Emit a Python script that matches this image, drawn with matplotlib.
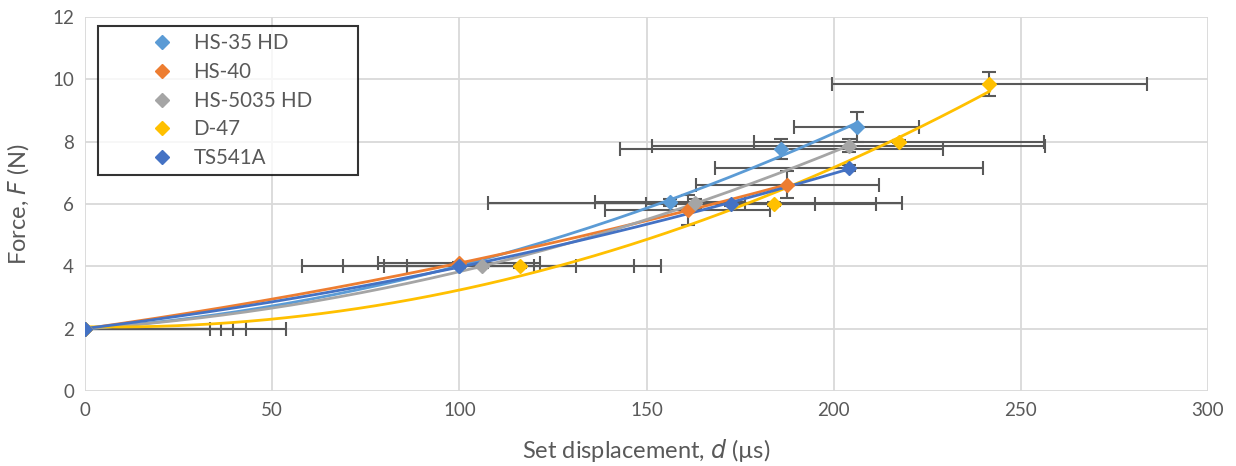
import numpy as np
import matplotlib
matplotlib.use("Agg")
import matplotlib.pyplot as plt
from matplotlib.legend_handler import HandlerLine2D

plt.rcParams['font.family'] = ['Lato', 'DejaVu Sans']

series = ["HS-35 HD", "HS-40", "HS-5035 HD", "D-47", "TS541A"]
colors = ["#5B9BD5", "#ED7D31", "#A5A5A5", "#FFC000", "#4472C4"]

# displacement (x), force (y), x errors, y errors
hs35_x = [0, 100, 156.3, 186, 206.2]
hs35_y = [2, 4.0, 6.05, 7.77, 8.47]
hs35_xerr = [39.5, 20.0, 20.0, 43.2, 16.7]
hs35_yerr = [0, 0.05, 0.12, 0.32, 0.48]

hs40_x = [0, 100, 161, 187.6]
hs40_y = [2, 4.1, 5.8, 6.62]
hs40_xerr = [43.0, 21.6, 22.0, 24.5]
hs40_yerr = [0, 0.05, 0.48, 0.43]

hs5035_x = [0, 106, 163, 204]
hs5035_y = [2, 4.0, 6.02, 7.87]
hs5035_xerr = [53.7, 47.9, 55.3, 52.4]
hs5035_yerr = [0, 0.05, 0.15, 0.21]

d47_x = [0, 116.3, 184, 217.5, 241.6]
d47_y = [2, 4.0, 6.0, 8.0, 9.86]
d47_xerr = [36.4, 30.3, 27.4, 38.8, 42.0]
d47_yerr = [0, 0.05, 0.05, 0.05, 0.39]

ts541_x = [0, 100, 172.5, 204]
ts541_y = [2, 4.0, 6.0, 7.15]
ts541_xerr = [33.4, 31.1, 22.6, 35.8]
ts541_yerr = [0, 0.05, 0.05, 0.1]

data = [
    (hs35_x, hs35_y, hs35_xerr, hs35_yerr),
    (hs40_x, hs40_y, hs40_xerr, hs40_yerr),
    (hs5035_x, hs5035_y, hs5035_xerr, hs5035_yerr),
    (d47_x, d47_y, d47_xerr, d47_yerr),
    (ts541_x, ts541_y, ts541_xerr, ts541_yerr),
]

fig = plt.figure(figsize=(12.36, 4.66), dpi=100)
ax = fig.add_axes([85/1236, 1-391/466, (1208-85)/1236, (391-17)/466])

for (x, y, xe, ye), c in zip(data, colors):
    ax.errorbar(x, y, xerr=xe, yerr=ye, fmt='none', ecolor='#595959',
                elinewidth=1.5, capsize=5, capthick=1.5, zorder=2)

for (x, y, xe, ye), c in zip(data, colors):
    coef = np.polyfit(x, y, 2)
    xx = np.linspace(0, max(x), 200)
    ax.plot(xx, np.polyval(coef, xx), color=c, lw=2, zorder=3)

handles = []
for (x, y, xe, ye), c, name in zip(data, colors, series):
    h, = ax.plot(x, y, linestyle='none', marker='D', markersize=7, color=c,
                 label=name, zorder=4)
    handles.append(h)

ax.set_xlim(0, 300)
ax.set_ylim(0, 12)
ax.set_xticks(np.arange(0, 301, 50))
ax.set_yticks(np.arange(0, 13, 2))
ax.grid(True, color='#D9D9D9', lw=1.3, zorder=0)
ax.set_axisbelow(True)
for s in ax.spines.values():
    s.set_visible(False)
ax.tick_params(length=0, labelsize=13.5, colors='#595959', pad=8)
ax.set_xlabel("Set displacement, $d$ (µs)", fontsize=17, color='#595959', labelpad=13)
ax.set_ylabel("Force, $F$ (N)", fontsize=17, color='#595959', labelpad=15)

hmap = {h: HandlerLine2D(numpoints=1, xpad=1.65) for h in handles}
leg = ax.legend(handles=handles, loc='upper left',
                bbox_to_anchor=(13/1123, 1 - 13/374, 260/1123, 0.01),
                mode='expand', handler_map=hmap,
                fontsize=14.8, frameon=True, fancybox=False, borderpad=0.35,
                handletextpad=0.4, labelspacing=0.42, borderaxespad=0,
                handlelength=3.9)
leg.get_frame().set_edgecolor('black')
leg.get_frame().set_linewidth(1.5)
for t in leg.get_texts():
    t.set_color('#595959')

fig.savefig("out.png", dpi=100)
